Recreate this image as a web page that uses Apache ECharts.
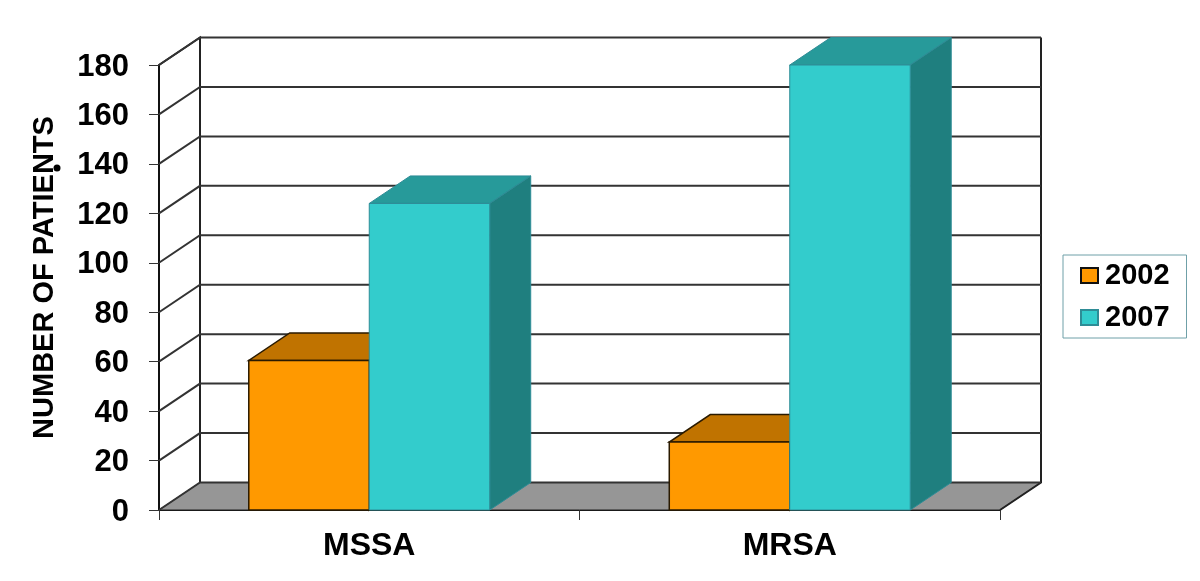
<!DOCTYPE html>
<html>
<head>
<meta charset="utf-8">
<title>Number of patients</title>
<style>
  html, body { margin: 0; padding: 0; background: #fff; }
  #chart { width: 1200px; height: 581px; }
</style>
<script src="https://cdn.jsdelivr.net/npm/echarts@6/dist/echarts.min.js"></script>
</head>
<body>
<div id="chart"></div>
<script>
// values
var categories = ['MSSA', 'MRSA'];
var values2002 = [60.5, 27.5];
var values2007 = [124, 180];
var yTicks = [0, 20, 40, 60, 80, 100, 120, 140, 160, 180];

// fake 3D look
var DEPTH_X = 41;
var DEPTH_Y = -27.5;
var BAR_RATIO = 0.2865; // bar width / category band

var FONT = '"Liberation Sans", Arial, sans-serif';

function shift(p) {
  return [p[0] + DEPTH_X, p[1] + DEPTH_Y];
}

function face(points, fill, stroke, lineWidth) {
  return {
    type: 'polygon',
    shape: { points: points },
    style: { fill: fill, stroke: stroke, lineWidth: lineWidth }
  };
}

// back wall, left wall and floor, one call per y tick
function renderWall(params, api) {
  var sys = params.coordSys;
  var y = api.coord([0, api.value(1)])[1];
  var left = sys.x;
  var right = sys.x + sys.width;
  var children = [];

  if (params.dataIndex === 0) {
    var top = sys.y;
    var base = sys.y + sys.height;
    children.push(face([[left, base], [right, base], shift([right, base]), shift([left, base])], '#969696', '#222', 1));
    children.push({
      type: 'polyline',
      shape: { points: [[left, top], shift([left, top]), shift([left, base])] },
      style: { fill: null, stroke: '#222', lineWidth: 2 }
    });
    children.push({
      type: 'polyline',
      shape: { points: [shift([right, top]), shift([right, base]), [right, base]] },
      style: { fill: null, stroke: '#222', lineWidth: 2 }
    });
  }
  children.push({
    type: 'polyline',
    shape: { points: [[left, y], shift([left, y]), shift([right, y])] },
    style: { fill: null, stroke: '#333', lineWidth: 2 }
  });
  return { type: 'group', children: children };
}

function makeBar(seriesOffset, colors) {
  return function (params, api) {
    var bandWidth = api.size([1, 0])[0];
    var barWidth = bandWidth * BAR_RATIO;
    var center = api.coord([api.value(0), 0]);
    var topY = api.coord([api.value(0), api.value(1)])[1];
    var x0 = center[0] + seriesOffset * barWidth;
    var x1 = x0 + barWidth;
    var a = [x0, topY], b = [x1, topY], c = [x1, center[1]], d = [x0, center[1]];
    return {
      type: 'group',
      children: [
        face([a, b, shift(b), shift(a)], colors.top, colors.edge, colors.edgeWidth),
        face([b, c, shift(c), shift(b)], colors.side, colors.edge, colors.edgeWidth),
        face([a, b, c, d], colors.front, colors.edge, colors.edgeWidth)
      ]
    };
  };
}

var orange = { front: '#FF9900', top: '#C07300', side: '#8F5600', edge: '#2a1a00', edgeWidth: 1.5 };
var teal = { front: '#33CCCC', top: '#279A9A', side: '#1F7F7F', edge: '#2E8C96', edgeWidth: 1 };

function toData(values) {
  return values.map(function (v, i) { return [i, v]; });
}

var chart = echarts.init(document.getElementById('chart'), null, { renderer: 'canvas' });

chart.setOption({
  animation: false,
  backgroundColor: '#fff',
  textStyle: { fontFamily: FONT },
  grid: { left: 159, right: 200, top: 65, bottom: 71 },
  legend: {
    data: ['2002', '2007'],
    left: 1063,
    top: 255,
    orient: 'vertical',
    padding: [6, 17, 6, 17],
    itemGap: 13,
    itemWidth: 17,
    itemHeight: 15,
    icon: 'rect',
    borderColor: '#6FA0A8',
    borderWidth: 1,
    textStyle: { fontFamily: FONT, fontSize: 29, fontWeight: 'bold', color: '#000', padding: [0, 0, 0, 2] }
  },
  xAxis: {
    type: 'category',
    data: categories,
    axisLine: { lineStyle: { color: '#111', width: 2 } },
    axisTick: { show: true, alignWithLabel: false, length: 10, lineStyle: { color: '#333', width: 1 } },
    axisLabel: { fontFamily: FONT, fontSize: 32, fontWeight: 'bold', color: '#000', margin: 20 }
  },
  yAxis: {
    type: 'value',
    min: 0,
    max: 180,
    interval: 20,
    name: 'NUMBER OF PATIENTS',
    nameLocation: 'middle',
    nameRotate: 90,
    nameGap: 100,
    nameTextStyle: { fontFamily: FONT, fontSize: 29, fontWeight: 'bold', color: '#000', padding: [0, 0, 0, 20] },
    axisLine: { show: true, lineStyle: { color: '#111', width: 2 } },
    axisTick: { show: true, length: 10, lineStyle: { color: '#333', width: 1 } },
    splitLine: { show: false },
    axisLabel: {
      margin: 30,
      formatter: '{tick|{value}}',
      rich: {
        tick: { fontFamily: FONT, fontSize: 31, fontWeight: 'bold', color: '#000', padding: [4, 0, 0, 0] }
      }
    }
  },
  graphic: [
    // stray dot next to the axis title in the original
    { type: 'circle', shape: { cx: 57, cy: 168, r: 3.5 }, style: { fill: '#000' }, z: 10 }
  ],
  series: [
    {
      type: 'custom',
      name: 'wall',
      renderItem: renderWall,
      data: yTicks.map(function (t) { return [0, t]; }),
      silent: true,
      z: 1
    },
    {
      type: 'custom',
      name: '2002',
      renderItem: makeBar(-1, orange),
      itemStyle: { color: orange.front, borderColor: '#111', borderWidth: 1.5 },
      data: toData(values2002),
      z: 2
    },
    {
      type: 'custom',
      name: '2007',
      renderItem: makeBar(0, teal),
      itemStyle: { color: teal.front, borderColor: teal.edge, borderWidth: 1 },
      data: toData(values2007),
      z: 3
    }
  ]
});
</script>
</body>
</html>
